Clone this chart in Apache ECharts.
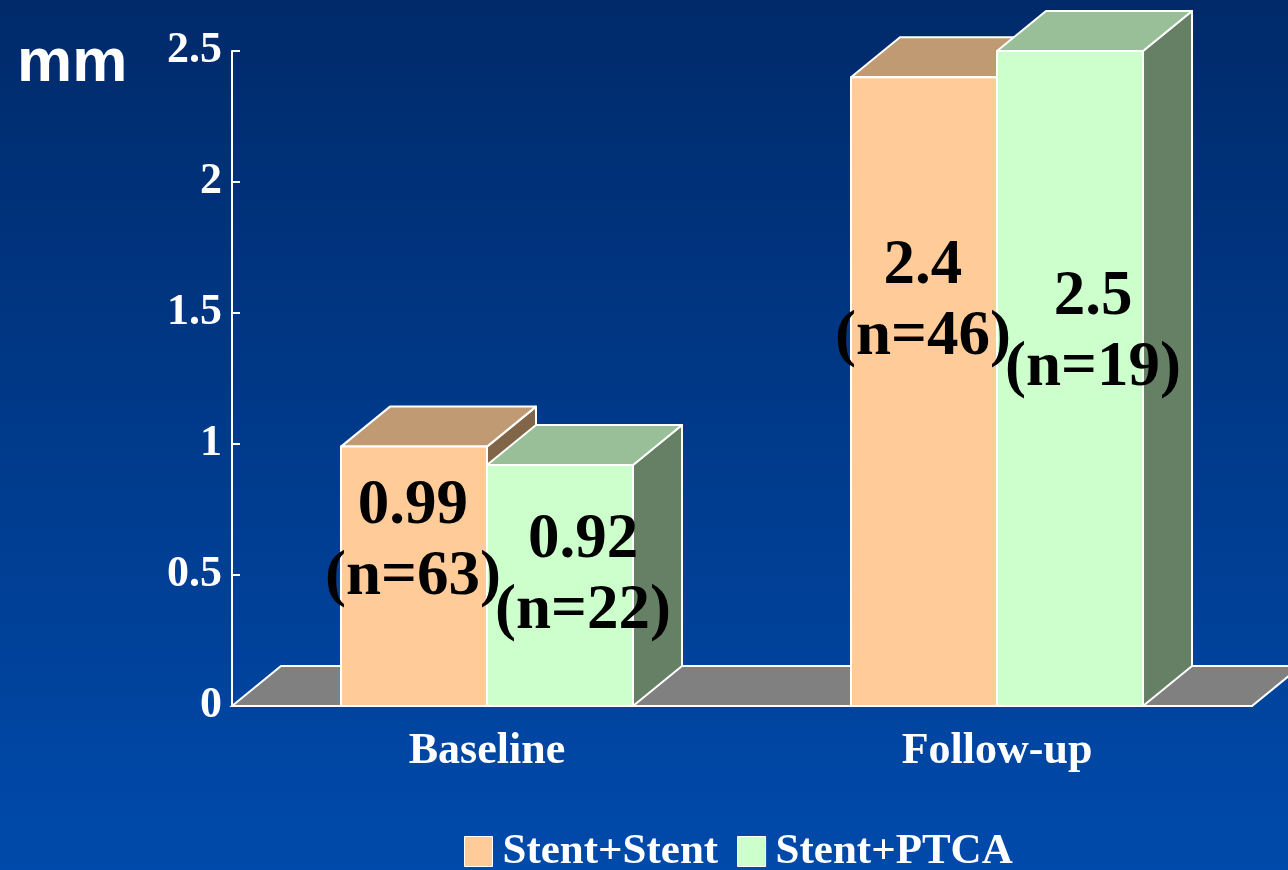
<!DOCTYPE html>
<html>
<head>
<meta charset="utf-8">
<script src="https://cdn.jsdelivr.net/npm/echarts@6/dist/echarts.min.js"></script>
<style>
  html, body { margin: 0; padding: 0; }
  #chart { width: 1288px; height: 870px; }
</style>
</head>
<body>
<div id="chart"></div>
<script>
// Lumen diameter (mm), two groups, baseline vs follow-up
const categories = ['Baseline', 'Follow-up'];
const seriesNames = ['Stent+Stent', 'Stent+PTCA'];
const stentStent = [0.99, 2.4];
const stentPTCA = [0.92, 2.5];
const nStentStent = [63, 46];
const nStentPTCA = [22, 19];
const yTicks = { min: 0, max: 2.5, interval: 0.5 };

// Box styling: front / top / side faces for each group
const faces = [
  { front: '#FFCC99', top: '#C09A72', side: '#806548' },
  { front: '#CCFFCC', top: '#99BF99', side: '#668066' }
];
// 3D depth offset of the boxes and the floor (pixels)
const DEPTH_X = 49, DEPTH_Y = 40;
const BAR_RATIO = 0.2863;         // bar width as a share of the category band
const LABEL_DX = [-1, 23];        // label shift per group
const LABEL_DROP = [[96, 225], [111, 282]]; // label block centre below box top

function boxItem(groupIdx, values, counts) {
  return function (params, api) {
    const i = params.dataIndex;
    const cat = api.value(0);
    const val = api.value(1);
    const base = api.coord([cat, 0]);
    const top = api.coord([cat, val]);
    const bandW = api.size([1, 0])[0];
    const w = bandW * BAR_RATIO;
    const x0 = groupIdx === 0 ? base[0] - w : base[0];
    const x1 = x0 + w;
    const yb = base[1], yt = top[1];
    const f = faces[groupIdx];
    const edge = { stroke: '#ffffff', lineWidth: 2, lineJoin: 'round' };
    const label = values[i] + '\n(n=' + counts[i] + ')';
    return {
      type: 'group',
      children: [
        { type: 'polygon', shape: { points: [[x1, yt], [x1 + DEPTH_X, yt - DEPTH_Y], [x1 + DEPTH_X, yb - DEPTH_Y], [x1, yb]] },
          style: Object.assign({ fill: f.side }, edge) },
        { type: 'polygon', shape: { points: [[x0, yt], [x0 + DEPTH_X, yt - DEPTH_Y], [x1 + DEPTH_X, yt - DEPTH_Y], [x1, yt]] },
          style: Object.assign({ fill: f.top }, edge) },
        { type: 'rect', shape: { x: x0, y: yt, width: w, height: yb - yt },
          style: Object.assign({ fill: f.front }, edge) },
        { type: 'text', z2: 100,
          style: {
            text: label,
            x: (x0 + x1) / 2 + LABEL_DX[groupIdx],
            y: yt + LABEL_DROP[groupIdx][i],
            fill: '#000000',
            font: 'bold 63px "Liberation Serif", "Times New Roman", serif',
            lineHeight: 71,
            textAlign: 'center',
            textVerticalAlign: 'middle'
          } }
      ]
    };
  };
}

function floorItem(params, api) {
  const cs = params.coordSys;
  const yb = cs.y + cs.height;
  const xl = cs.x, xr = cs.x + cs.width;
  return {
    type: 'polygon',
    shape: { points: [[xl, yb], [xl + DEPTH_X, yb - DEPTH_Y], [xr + DEPTH_X, yb - DEPTH_Y], [xr, yb]] },
    style: { fill: '#808080', stroke: '#ffffff', lineWidth: 2 }
  };
}

const chart = echarts.init(document.getElementById('chart'));
const serif = '"Liberation Serif", "Times New Roman", serif';

chart.setOption({
  backgroundColor: {
    type: 'linear', x: 0, y: 0, x2: 0, y2: 1,
    colorStops: [{ offset: 0, color: '#002A6A' }, { offset: 1, color: '#004AAB' }]
  },
  title: {
    text: 'mm', left: 12, top: 28,
    textStyle: { color: '#ffffff', fontSize: 62, fontWeight: 'bold', fontFamily: '"Liberation Sans", Arial, sans-serif' }
  },
  grid: { left: 232, right: 36, top: 51, bottom: 164, containLabel: false },
  legend: {
    data: seriesNames,
    left: 459, top: 825,
    icon: 'rect', itemWidth: 28, itemHeight: 30, itemGap: 19,
    itemStyle: { borderColor: '#ffffff', borderWidth: 1 },
    textStyle: { color: '#ffffff', fontSize: 43, fontWeight: 'bold', fontFamily: serif, padding: [0, 0, 0, 5] }
  },
  xAxis: {
    type: 'category', data: categories, boundaryGap: true, z: 10,
    axisLine: { lineStyle: { color: '#ffffff', width: 2 } },
    axisTick: { inside: true, length: 9, lineStyle: { color: '#ffffff', width: 2 } },
    axisLabel: { color: '#ffffff', fontSize: 44, fontWeight: 'bold', fontFamily: serif, margin: 24 }
  },
  yAxis: {
    type: 'value', min: yTicks.min, max: yTicks.max, interval: yTicks.interval, z: 10,
    axisLine: { show: true, lineStyle: { color: '#ffffff', width: 2 } },
    axisTick: { show: true, inside: true, length: 8, lineStyle: { color: '#ffffff', width: 2 } },
    splitLine: { show: false },
    axisLabel: { color: '#ffffff', fontSize: 44, fontWeight: 'bold', fontFamily: serif, margin: 10 }
  },
  series: [
    { type: 'custom', name: 'floor', silent: true, renderItem: floorItem, data: [[0, 0]], z: 1 },
    { type: 'custom', name: seriesNames[0], itemStyle: { color: faces[0].front },
      renderItem: boxItem(0, stentStent, nStentStent),
      data: categories.map((c, i) => [i, stentStent[i]]) },
    { type: 'custom', name: seriesNames[1], itemStyle: { color: faces[1].front },
      renderItem: boxItem(1, stentPTCA, nStentPTCA),
      data: categories.map((c, i) => [i, stentPTCA[i]]) }
  ]
});
</script>
</body>
</html>
